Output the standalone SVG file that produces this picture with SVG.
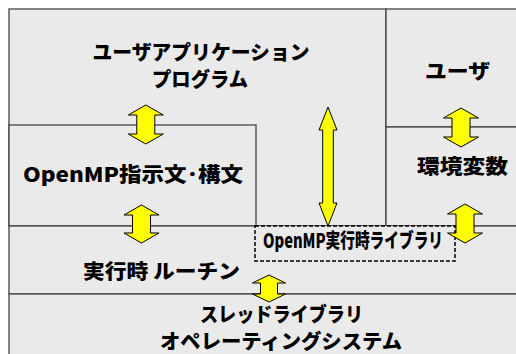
<svg xmlns="http://www.w3.org/2000/svg" width="516" height="354" viewBox="0 0 516 354">
<style>
.box{fill:#eaeaea;stroke:#444;stroke-width:1.3}
.lbl{font-family:"Noto Sans CJK JP","Liberation Sans",sans-serif;font-weight:900;font-size:20px;fill:#000;text-anchor:middle}
.arr{fill:#ffff00;stroke:#000;stroke-width:1;stroke-linejoin:miter}
</style>
<rect width="516" height="354" fill="#fff"/>
<g id="app">
<rect class="box" x="9" y="9" width="377" height="217"/>
<text class="lbl" x="201" y="60" font-size="18" textLength="217" lengthAdjust="spacingAndGlyphs">ユーザアプリケーション</text>
<text class="lbl" x="200" y="87" font-size="18" textLength="96" lengthAdjust="spacingAndGlyphs">プログラム</text>
</g>
<g id="user">
<rect class="box" x="386" y="9" width="140" height="118"/>
<text class="lbl" x="457.5" y="79" textLength="65" lengthAdjust="spacingAndGlyphs">ユーザ</text>
</g>
<g id="env">
<rect class="box" x="386" y="127" width="140" height="99"/>
<text class="lbl" x="462.5" y="174" font-size="21" textLength="91" lengthAdjust="spacingAndGlyphs">環境変数</text>
</g>
<g id="directives">
<rect class="box" x="9" y="125" width="247" height="101"/>
<text class="lbl" x="133" y="182" textLength="220" lengthAdjust="spacingAndGlyphs">OpenMP指示文･構文</text>
</g>
<g id="runtime">
<rect class="box" x="9" y="226" width="517" height="68"/>
<text class="lbl" x="161.5" y="279" textLength="157" lengthAdjust="spacingAndGlyphs">実行時 ルーチン</text>
</g>
<g id="thread">
<rect class="box" x="9" y="294" width="517" height="70"/>
<text class="lbl" x="281.5" y="322" font-size="19" textLength="163" lengthAdjust="spacingAndGlyphs">スレッドライブラリ</text>
<text class="lbl" x="281" y="349" font-size="19" textLength="242" lengthAdjust="spacingAndGlyphs">オペレーティングシステム</text>
</g>
<g id="omplib">
<rect x="255" y="226" width="200" height="35" fill="#eaeaea" stroke="#000" stroke-width="1.5" stroke-dasharray="4,2"/>
<text class="lbl" x="353" y="248" font-size="14" textLength="180" lengthAdjust="spacingAndGlyphs">OpenMP実行時ライブラリ</text>
</g>
<g id="connectors">
<path class="arr" d="M145.8,105 L163.3,115 L154.8,115 L154.8,134 L163.3,134 L145.8,144 L128.3,134 L136.8,134 L136.8,115 L128.3,115 Z"/>
<path class="arr" d="M141.5,205 L159,215 L150.5,215 L150.5,233 L159,233 L141.5,243 L124,233 L132.5,233 L132.5,215 L124,215 Z"/>
<path class="arr" d="M461,108 L478.5,118 L470,118 L470,137 L478.5,137 L461,147 L443.5,137 L452,137 L452,118 L443.5,118 Z"/>
<path class="arr" d="M465,204 L482.5,214 L474,214 L474,233 L482.5,233 L465,243 L447.5,233 L456,233 L456,214 L447.5,214 Z"/>
<path class="arr" d="M269,275 L285.5,283 L277.5,283 L277.5,294 L285.5,294 L269,302 L252.5,294 L260.5,294 L260.5,283 L252.5,283 Z"/>
<path class="arr" d="M328,107 L337,130 L333.3,130 L333.3,203 L337,203 L328,226 L319,203 L322.7,203 L322.7,130 L319,130 Z"/>
</g>
</svg>
